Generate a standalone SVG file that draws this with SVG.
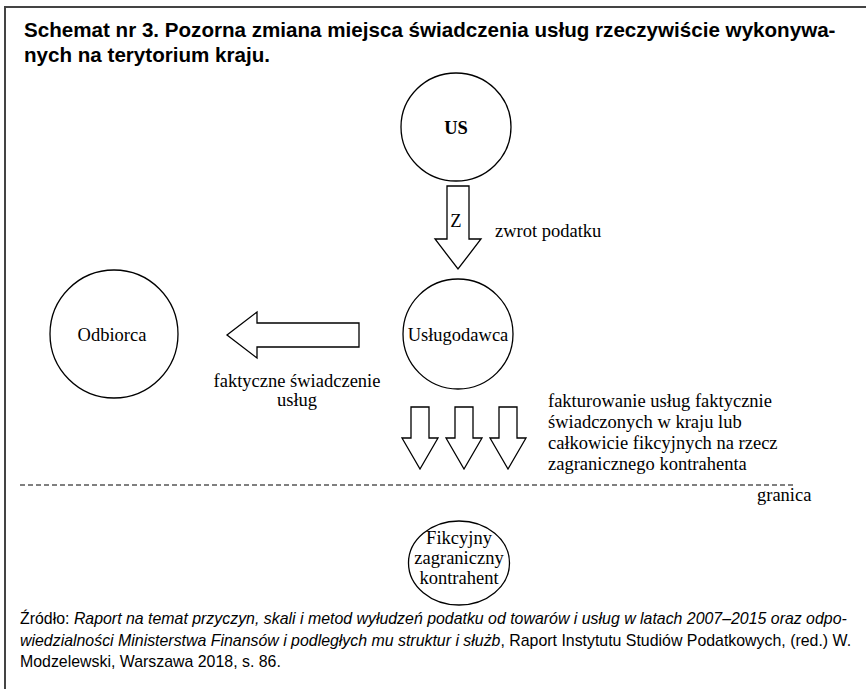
<svg xmlns="http://www.w3.org/2000/svg" width="866" height="689" viewBox="0 0 866 689">
<style>
.frame{fill:none;stroke:#444;stroke-width:2}
.shape{fill:#fff;stroke:#000;stroke-width:1.3}
.title{font-family:"Liberation Sans",Arial,sans-serif;font-weight:bold;font-size:20.6px;fill:#000}
.lbl{font-family:"Liberation Serif","Times New Roman",serif;font-size:18.5px;fill:#000}
.src{font-family:"Liberation Sans",Arial,sans-serif;font-size:15.9px;fill:#000}
.dash{stroke:#000;stroke-width:1;stroke-dasharray:5,3;fill:none}
</style>
<rect width="866" height="689" fill="#fff"/>
<path class="frame" d="M5,689 V7 H866"/>
<text class="title" x="24" y="37">Schemat nr 3. Pozorna zmiana miejsca świadczenia usług rzeczywiście wykonywa-</text>
<text class="title" x="24" y="62">nych na terytorium kraju.</text>

<g id="us">
<ellipse class="shape" cx="456" cy="127" rx="55" ry="54"/>
<text class="lbl" x="456" y="134" text-anchor="middle" font-weight="bold" font-size="21">US</text>
</g>
<g id="uslugodawca">
<circle class="shape" cx="458" cy="334" r="55"/>
<text class="lbl" x="458" y="341" text-anchor="middle" font-size="17.8">Usługodawca</text>
</g>
<g id="odbiorca">
<circle class="shape" cx="114" cy="334" r="64"/>
<text class="lbl" x="112" y="341" text-anchor="middle" font-size="21">Odbiorca</text>
</g>
<g id="fikcyjny">
<ellipse class="shape" cx="459" cy="563" rx="50.5" ry="42"/>
<text class="lbl" x="459" y="544" text-anchor="middle">Fikcyjny</text>
<text class="lbl" x="459" y="564" text-anchor="middle">zagraniczny</text>
<text class="lbl" x="459" y="584" text-anchor="middle">kontrahent</text>
</g>

<g id="connectors">
<path class="shape" d="M447,186 H469 V239 H481 L458,269 L435,239 H447 Z"/>
<text class="lbl" x="456" y="227" text-anchor="middle" font-size="18">Z</text>
<path class="shape" d="M359,323 V347 H257 V358 L227,335 L257,312 V323 Z"/>
<path class="shape" d="M411,407 H429 V438 H438 L420,469 L402,438 H411 Z"/>
<path class="shape" d="M455,407 H473 V438 H482 L464,469 L446,438 H455 Z"/>
<path class="shape" d="M499,407 H517 V438 H526 L508,469 L490,438 H499 Z"/>
<line class="dash" x1="20" y1="485" x2="793" y2="485"/>
</g>

<text class="lbl" x="495" y="237">zwrot podatku</text>
<text class="lbl" x="297" y="387" text-anchor="middle">faktyczne świadczenie</text>
<text class="lbl" x="297" y="406" text-anchor="middle">usług</text>
<text class="lbl" x="548" y="407">fakturowanie usług faktycznie</text>
<text class="lbl" x="548" y="428">świadczonych w kraju lub</text>
<text class="lbl" x="548" y="449">całkowicie fikcyjnych na rzecz</text>
<text class="lbl" x="548" y="470">zagranicznego kontrahenta</text>
<text class="lbl" x="757" y="501" font-size="16">granica</text>

<text class="src" x="20" y="624">Źródło: <tspan font-style="italic">Raport na temat przyczyn, skali i metod wyłudzeń podatku od towarów i usług w latach 2007–2015 oraz odpo-</tspan></text>
<text class="src" x="20" y="646"><tspan font-style="italic">wiedzialności Ministerstwa Finansów i podległych mu struktur i służb</tspan>, Raport Instytutu Studiów Podatkowych, (red.) W.</text>
<text class="src" x="20" y="667">Modzelewski, Warszawa 2018, s. 86.</text>
</svg>
